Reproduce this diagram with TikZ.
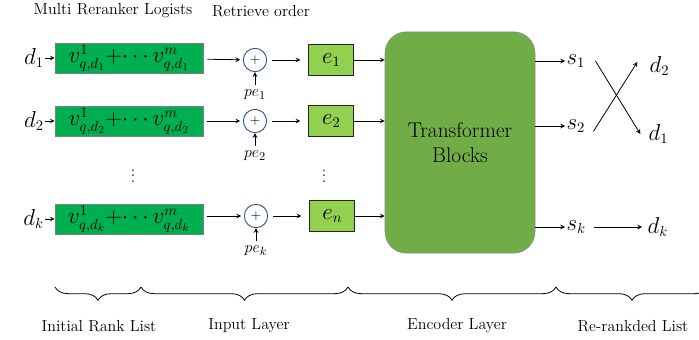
\documentclass[tikz,border=0pt]{standalone}
\usepackage{amsmath}
\usepackage{amssymb}
\usepackage{xcolor}
\usepackage{tikz}
\usetikzlibrary{shapes.geometric, arrows, positioning, decorations.pathreplacing}
\definecolor{logitgreen}{HTML}{00B050}
\definecolor{embgreen}{HTML}{92D050}
\definecolor{blockgreen}{HTML}{70AD47}
\definecolor{addblue}{HTML}{2F5597}
\tikzstyle{logits} = [rectangle, minimum width=111pt, minimum height=22.5pt, inner sep=0pt, text centered, draw=black!50, fill=logitgreen, font=\fontsize{16}{18}\selectfont]
\tikzstyle{embed} = [rectangle, minimum width=33.5pt, minimum height=23pt, inner sep=0pt, text centered, draw=black!85, line width=0.7pt, fill=embgreen, font=\fontsize{16}{18}\selectfont]
\tikzstyle{adder} = [circle, minimum size=17.5pt, inner sep=0pt, draw=addblue, line width=0.7pt]
\tikzstyle{encoder} = [rectangle, rounded corners=16pt, minimum width=112.5pt, minimum height=166pt, text width=100pt, align=center, draw=black!45, fill=blockgreen, font=\fontsize{16}{19}\selectfont]
\tikzstyle{doc} = [inner sep=1pt, font=\fontsize{16}{18}\selectfont]
\tikzstyle{posenc} = [inner sep=1pt, font=\fontsize{12.5}{14}\selectfont]
\tikzstyle{layer} = [font=\fontsize{12}{14}\selectfont]
\tikzstyle{arrow} = [->,>=stealth, line width=0.6pt]
\tikzstyle{span} = [decorate, decoration={brace, mirror, amplitude=10pt}, line width=0.6pt]

\begin{document}
\begin{tikzpicture}[x=0.75pt, y=-0.75pt]
    \useasboundingbox (0,0) rectangle (699,339);
    % headers
    \node (hlogit) [layer] at (113,11) {Multi Reranker Logists};
    \node (horder) [layer] at (261,11) {Retrieve order};
    % row 1
    \node (v1) [logits] at (129,58) {$v^1_{q,d_1}{+}{\cdots}\,v^m_{q,d_1}$};
    \node (d1) [doc, left=7pt of v1] {$d_1$};
    \draw [arrow] (d1) -- (v1);
    \node (add1) [adder] at (255,60) {$+$};
    \draw [arrow, shorten <=3pt, shorten >=2pt] (v1) -- (add1);
    \node (pe1) [posenc, below=12pt of add1] {$pe_1$};
    \draw [arrow, shorten <=2pt] (pe1) -- (add1);
    \node (e1) [embed, right=31pt of add1] {$e_1$};
    \draw [arrow, shorten <=4pt, shorten >=6pt] (add1) -- (e1);
    % row 2
    \node (v2) [logits] at (129,121) {$v^1_{q,d_2}{+}{\cdots}\,v^m_{q,d_2}$};
    \node (d2) [doc, left=7pt of v2] {$d_2$};
    \draw [arrow] (d2) -- (v2);
    \node (add2) [adder] at (255,121) {$+$};
    \draw [arrow, shorten <=3pt, shorten >=2pt] (v2) -- (add2);
    \node (pe2) [posenc, below=12pt of add2] {$pe_2$};
    \draw [arrow, shorten <=2pt] (pe2) -- (add2);
    \node (e2) [embed, right=31pt of add2] {$e_2$};
    \draw [arrow, shorten <=4pt, shorten >=6pt] (add2) -- (e2);
    % dots
    \node (dots1) [layer] at (133,172) {$\vdots$};
    \node (dots2) [layer] at (324,172) {$\vdots$};
    % row k
    \node (vk) [logits] at (129,219) {$v^1_{q,d_k}{+}{\cdots}\,v^m_{q,d_k}$};
    \node (dk) [doc, left=7pt of vk] {$d_k$};
    \draw [arrow] (dk) -- (vk);
    \node (addk) [adder] at (256,216) {$+$};
    \draw [arrow, shorten <=3pt, shorten >=2pt] (vk.east |- addk) -- (addk);
    \node (pek) [posenc, below=12pt of addk] {$pe_k$};
    \draw [arrow, shorten <=2pt] (pek) -- (addk);
    \node (en) [embed, right=31pt of addk] {$e_n$};
    \draw [arrow, shorten <=4pt, shorten >=6pt] (addk) -- (en);
    % encoder
    \node (tb) [encoder] at (460,142.5) {Transformer\\Blocks};
    \draw [arrow] (e1) -- (e1 -| tb.west);
    \draw [arrow] (e2) -- (e2 -| tb.west);
    \draw [arrow] (en) -- (en -| tb.west);
    % scores
    \node (s1) [doc, anchor=west] at (565,61) {$s_1$};
    \node (s2) [doc, anchor=west] at (565,126) {$s_2$};
    \node (sk) [doc, anchor=west] at (565,227) {$s_k$};
    \draw [arrow] (tb.east |- s1.west) -- (s1.west);
    \draw [arrow] (tb.east |- s2.west) -- (s2.west);
    \draw [arrow] (tb.east |- sk.west) -- (sk.west);
    % re-ranked
    \node (r2) [doc, anchor=west] at (648,66) {$d_2$};
    \node (r1) [doc, anchor=west] at (647,134) {$d_1$};
    \node (rk) [doc, anchor=west] at (646,227) {$d_k$};
    \draw [arrow] ([xshift=6.5pt]s1.east) -- ([xshift=-5pt]r1.west);
    \draw [arrow] ([xshift=5pt,yshift=-4pt]s2.east) -- ([xshift=-8pt,yshift=3pt]r2.west);
    \draw [arrow] ([xshift=5pt]sk.east) -- ([xshift=-3pt]rk.west);
    % layers
    \draw [span] (55,287) -- (141,287);
    \draw [span] (141,287) -- (348,287);
    \draw [span] (348,287) -- (556,287);
    \draw [span] (556,287) -- (708,287);
    \node (linit) [layer] at (99,326) {Initial Rank List};
    \node (linput) [layer] at (249,326) {Input Layer};
    \node (lenc) [layer] at (457,326) {Encoder Layer};
    \node (lrank) [layer] at (633,326) {Re-rankded List};
\end{tikzpicture}
\end{document}
